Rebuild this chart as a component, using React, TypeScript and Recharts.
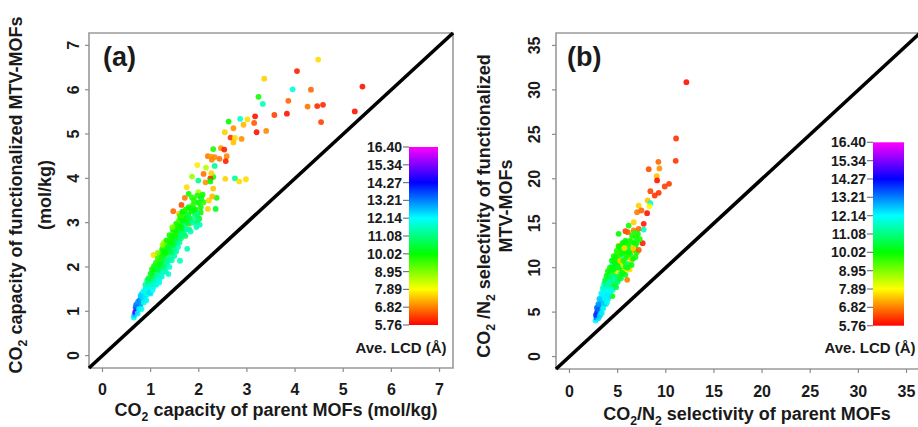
import React from 'react';
import { ScatterChart, Scatter, XAxis, YAxis, ReferenceLine, ReferenceArea, Label } from 'recharts';

const FONT = "'Liberation Sans', Arial, Helvetica, sans-serif";

const capacityTicks = [0, 1, 2, 3, 4, 5, 6, 7];
const selectivityTicks = [0, 5, 10, 15, 20, 25, 30, 35];
const lcdTickLabels = ['16.40', '15.34', '14.27', '13.21', '12.14', '11.08', '10.02', '8.95', '7.89', '6.82', '5.76'];
const LCD_MIN = 5.76;
const LCD_MAX = 16.4;

// [parent MOF CO2 capacity, functionalized MTV-MOF CO2 capacity, Ave. LCD]
const capacityPoints: [number, number, number][] = [
  [4.48, 6.68, 7.6], [4.04, 6.42, 6.0], [5.4, 6.07, 5.9], [3.36, 6.25, 7.5], [3.95, 6.01, 11.9],
  [4.33, 6.0, 6.6], [3.24, 5.84, 9.9], [3.33, 5.68, 11.6], [3.86, 5.75, 6.6], [4.26, 5.62, 6.7],
  [4.46, 5.63, 6.1], [4.58, 5.66, 6.1], [3.83, 5.46, 5.9], [3.57, 5.43, 6.3], [5.24, 5.51, 5.9],
  [4.54, 5.27, 6.3], [3.17, 5.4, 5.9], [3.2, 5.04, 5.9], [3.4, 5.07, 6.9], [3.15, 5.25, 6.5],
  [2.86, 5.34, 11.8], [3.01, 5.33, 7.6], [2.93, 5.21, 7.3], [2.62, 5.28, 10.0], [2.72, 5.13, 7.0],
  [2.54, 5.04, 7.5], [2.66, 4.92, 6.2], [2.75, 4.91, 7.6], [2.89, 4.89, 7.0], [2.72, 4.81, 7.4],
  [2.3, 4.66, 9.8], [2.46, 4.68, 7.0], [2.53, 4.65, 6.0], [2.19, 4.5, 6.8], [2.26, 4.49, 7.1],
  [2.33, 4.48, 6.9], [2.27, 4.42, 6.9], [2.43, 4.44, 6.7], [2.58, 4.5, 6.9], [2.56, 4.39, 6.0],
  [2.33, 4.28, 11.3], [1.97, 4.3, 7.7], [2.15, 4.24, 8.5], [2.3, 4.03, 9.8], [1.86, 4.04, 8.7],
  [1.99, 3.95, 11.2], [2.1, 4.1, 6.7], [2.24, 4.0, 6.2], [2.14, 3.91, 7.0], [2.24, 3.93, 10.0],
  [2.75, 4.0, 11.3], [2.55, 3.99, 7.5], [2.84, 3.93, 7.6], [2.98, 3.98, 7.6], [2.3, 3.77, 7.4],
  [2.26, 4.12, 7.5], [1.99, 3.69, 8.6], [1.75, 3.8, 7.6], [1.79, 3.65, 9.9], [1.86, 3.57, 9.7],
  [1.97, 3.61, 9.8], [2.08, 3.63, 9.9], [2.37, 3.56, 9.9], [1.71, 3.56, 6.8], [2.1, 3.46, 9.6],
  [2.21, 3.5, 7.5], [2.28, 3.59, 7.3], [1.64, 3.4, 6.4], [1.47, 3.26, 6.6], [2.35, 3.31, 10.3],
  [2.19, 3.31, 7.5], [2.04, 3.35, 9.9], [2.04, 3.23, 10.1], [1.83, 3.31, 9.8], [1.9, 3.27, 10.0],
  [1.59, 3.2, 7.4], [1.97, 3.2, 11.0], [2.01, 3.09, 10.2], [1.76, 3.05, 7.4], [1.68, 3.02, 6.6],
  [1.8, 2.98, 6.9], [1.97, 3.01, 9.8],
  [0.65, 0.86, 12.0], [0.66, 0.92, 12.6], [0.68, 0.98, 15.0], [0.7, 1.02, 15.3], [0.72, 1.06, 14.8],
  [0.69, 1.09, 13.5], [0.73, 0.95, 12.3], [0.75, 1.15, 13.4], [0.77, 1.24, 14.2], [0.78, 1.1, 12.8],
  [0.8, 1.18, 12.9], [0.8, 1.3, 13.0], [0.83, 1.25, 12.6], [0.84, 1.36, 13.1], [0.86, 1.2, 11.9],
  [0.82, 1.4, 12.4], [0.88, 1.32, 12.2], [0.88, 1.45, 12.7], [0.9, 1.52, 12.0], [0.92, 1.38, 11.8],
  [0.94, 1.6, 11.5], [0.95, 1.47, 12.3], [0.97, 1.66, 11.2], [0.99, 1.55, 12.1], [1.0, 1.4, 11.9],
  [0.93, 1.7, 10.8], [1.02, 1.72, 10.5], [1.03, 1.62, 11.6], [1.05, 1.8, 10.2], [1.06, 1.55, 11.9],
  [1.08, 1.68, 11.4], [1.08, 1.9, 10.0], [1.1, 1.75, 11.0], [1.12, 1.95, 10.3], [1.12, 1.6, 12.0],
  [1.14, 1.84, 11.3], [1.06, 2.27, 7.6], [1.16, 2.05, 10.1], [1.17, 1.72, 11.8], [1.18, 1.92, 10.8],
  [1.2, 2.15, 9.9], [1.21, 1.8, 11.5], [1.22, 2.0, 10.6], [1.24, 2.25, 10.0], [1.25, 1.88, 11.6],
  [1.26, 2.1, 10.4], [1.28, 2.35, 9.8], [1.29, 1.95, 11.3], [1.3, 2.2, 10.5], [1.32, 2.42, 9.9],
  [1.32, 2.05, 11.0], [1.34, 2.3, 10.2], [1.35, 2.55, 10.0], [1.36, 2.15, 11.1], [1.37, 1.84, 11.7],
  [1.38, 2.4, 10.4], [1.4, 2.62, 9.7], [1.41, 2.22, 11.2], [1.42, 2.48, 10.1], [1.44, 2.7, 9.9],
  [1.45, 2.32, 10.8], [1.46, 2.58, 10.2], [1.47, 2.78, 9.6], [1.48, 2.4, 11.0], [1.5, 2.65, 10.1],
  [1.51, 2.88, 9.8], [1.52, 2.5, 10.9], [1.54, 2.75, 10.0], [1.55, 2.95, 9.3], [1.56, 2.58, 11.2],
  [1.58, 2.82, 10.0], [1.59, 3.05, 9.5], [1.6, 2.7, 10.7], [1.61, 2.14, 11.6], [1.62, 2.92, 9.9],
  [1.63, 3.1, 10.0], [1.64, 2.78, 11.0], [1.66, 3.0, 10.2], [1.67, 3.18, 9.6], [1.68, 2.85, 10.5],
  [1.7, 3.25, 9.9], [1.72, 2.95, 11.2], [1.74, 3.1, 10.0], [1.76, 2.41, 11.5], [1.78, 3.18, 10.3],
  [1.8, 2.85, 11.0], [1.72, 2.7, 10.8], [1.84, 3.05, 10.6], [1.88, 3.4, 9.8], [1.92, 3.15, 11.0],
  [1.95, 2.9, 11.5], [1.28, 2.56, 8.6],
  [0.7, 1.15, 13.2], [0.74, 1.22, 13.0], [0.76, 1.05, 12.2], [0.79, 1.35, 12.5], [0.81, 1.05, 12.0],
  [0.85, 1.45, 12.0], [0.87, 1.28, 12.4], [0.89, 1.6, 11.4], [0.91, 1.25, 12.2], [0.93, 1.5, 11.9],
  [0.96, 1.75, 10.6], [0.98, 1.42, 12.4], [1.0, 1.85, 10.3], [1.01, 1.58, 11.7], [1.03, 1.95, 10.0],
  [1.04, 1.48, 12.1], [1.07, 2.02, 9.9], [1.09, 1.62, 11.8], [1.11, 2.1, 9.8], [1.13, 1.7, 11.6],
  [1.15, 1.95, 10.6], [1.15, 2.2, 9.7], [1.18, 1.65, 12.0], [1.19, 2.3, 9.9], [1.21, 2.05, 10.2],
  [1.23, 1.78, 11.8], [1.24, 2.4, 10.1], [1.27, 2.0, 10.9], [1.27, 2.48, 9.6], [1.3, 2.32, 10.0],
  [1.31, 1.9, 11.6], [1.33, 2.6, 9.9], [1.35, 2.1, 11.3], [1.36, 2.45, 10.3], [1.39, 2.0, 11.8],
  [1.39, 2.72, 9.8], [1.41, 2.35, 10.6], [1.43, 2.58, 9.9], [1.44, 2.15, 11.5], [1.46, 2.85, 10.0],
  [1.48, 2.5, 10.4], [1.49, 2.25, 11.4], [1.51, 2.72, 9.9], [1.53, 2.35, 11.3], [1.53, 2.98, 9.8],
  [1.55, 2.6, 10.5], [1.57, 2.45, 11.6], [1.57, 2.9, 9.9], [1.6, 2.55, 11.4], [1.61, 3.15, 9.7],
  [1.63, 2.65, 10.9], [1.65, 2.88, 10.1], [1.66, 3.25, 10.0], [1.69, 2.75, 11.1], [1.71, 3.05, 10.2],
  [1.73, 3.3, 9.8], [1.75, 2.85, 11.3], [1.77, 3.0, 10.4], [1.79, 3.35, 9.9], [1.81, 3.1, 10.6],
  [1.83, 2.8, 11.5], [1.85, 3.25, 10.2], [1.87, 3.0, 11.3], [1.9, 3.5, 9.8], [1.93, 3.3, 10.1],
  [1.96, 3.05, 11.2], [1.99, 3.45, 10.0], [2.02, 2.95, 11.6], [2.05, 3.55, 10.2], [1.25, 2.5, 8.8],
  [1.45, 2.9, 9.0], [1.15, 2.32, 8.9],
];

// [parent MOF CO2/N2 selectivity, functionalized MTV-MOF CO2/N2 selectivity, Ave. LCD]
const selectivityPoints: [number, number, number][] = [
  [12.14, 30.87, 5.9], [11.07, 24.53, 6.2], [11.03, 22.02, 6.2], [9.23, 21.91, 6.6], [8.23, 21.08, 6.4],
  [9.34, 21.16, 7.0], [9.06, 20.29, 7.4], [9.1, 19.81, 5.9], [10.34, 19.43, 6.3], [9.89, 19.13, 6.3],
  [8.4, 18.6, 6.3], [9.27, 18.42, 6.2], [8.85, 18.12, 6.2], [8.12, 17.56, 7.4], [7.19, 16.99, 7.5],
  [8.4, 17.25, 11.8], [8.06, 16.13, 5.9], [7.02, 16.24, 6.8], [7.47, 16.43, 6.6], [8.3, 16.9, 7.8],
  [6.15, 14.74, 9.9], [6.67, 15.11, 7.5], [7.71, 14.93, 6.0], [6.67, 14.18, 6.8], [7.19, 14.37, 6.6],
  [7.71, 14.29, 11.6], [5.81, 14.1, 6.3], [6.05, 13.99, 6.5], [5.11, 13.81, 10.0], [7.6, 12.75, 6.0],
  [5.46, 12.68, 7.5], [5.11, 12.49, 7.4], [5.81, 13.05, 9.9], [6.33, 13.05, 9.7], [6.85, 12.49, 10.1],
  [6.5, 12.12, 9.8], [5.71, 12.12, 6.9], [5.46, 11.93, 11.6], [6.15, 11.55, 11.8],
  [2.7, 4.05, 12.2], [2.8, 4.4, 13.3], [2.87, 4.99, 14.8], [2.9, 4.6, 14.2], [2.95, 5.3, 13.6],
  [3.0, 4.3, 12.4], [3.05, 5.7, 13.0], [3.1, 5.0, 13.5], [3.15, 5.5, 14.6], [3.2, 4.8, 12.8],
  [3.2, 6.1, 12.5], [3.25, 5.9, 13.2], [3.3, 6.5, 12.3], [3.35, 5.4, 12.9], [3.4, 6.9, 12.0],
  [3.45, 6.1, 12.6], [3.5, 7.3, 11.9], [3.55, 5.8, 12.4], [3.6, 6.6, 12.2], [3.65, 7.6, 11.6],
  [3.7, 6.2, 12.5], [3.75, 7.1, 12.1], [3.8, 8.0, 11.2], [3.8, 5.9, 11.8], [3.85, 6.8, 12.3],
  [3.9, 7.5, 12.0], [3.95, 8.4, 10.3], [4.0, 6.5, 12.4], [4.05, 7.9, 11.7], [4.1, 9.0, 10.0],
  [4.15, 7.2, 12.1], [4.2, 8.6, 11.0], [4.25, 9.6, 10.2], [4.3, 7.7, 11.6], [4.35, 8.2, 10.5],
  [4.4, 9.2, 9.8], [4.45, 10.3, 11.8], [4.45, 6.8, 10.1], [4.5, 10.0, 10.0], [4.55, 8.5, 11.2],
  [4.6, 9.5, 9.6], [4.65, 10.8, 9.9], [4.7, 8.0, 10.4], [4.75, 9.9, 10.1], [4.8, 11.2, 10.0],
  [4.85, 9.0, 11.0], [4.9, 10.4, 9.7], [4.95, 11.55, 9.9], [5.0, 9.6, 7.6], [5.05, 10.9, 10.2],
  [5.1, 8.7, 9.8], [5.15, 11.8, 7.5], [5.2, 10.2, 10.0], [5.25, 11.4, 9.8], [5.3, 9.3, 11.4],
  [5.35, 12.3, 9.6], [5.4, 10.7, 7.2], [5.45, 9.9, 10.1], [5.5, 11.6, 10.2], [5.55, 10.3, 8.2],
  [5.6, 12.6, 9.9], [5.65, 11.0, 11.5], [5.7, 9.6, 7.8], [5.75, 10.6, 9.7], [5.8, 11.8, 10.0],
  [5.85, 10.1, 10.3], [5.99, 8.63, 6.8], [6.0, 11.2, 9.9], [6.1, 10.4, 11.2], [6.15, 12.4, 10.1],
  [6.25, 9.8, 7.6], [6.3, 11.5, 9.8], [6.4, 10.9, 7.4], [6.5, 13.6, 9.8], [6.6, 11.0, 10.0],
  [6.7, 12.8, 10.2], [6.8, 11.9, 7.0], [6.9, 13.4, 9.9], [7.0, 11.7, 9.8], [7.1, 13.8, 10.1],
  [2.75, 4.7, 13.8], [2.85, 5.5, 13.4], [3.0, 5.9, 13.0], [3.1, 6.5, 12.6], [3.15, 4.6, 12.5],
  [3.3, 7.1, 12.2], [3.35, 4.9, 12.3], [3.45, 7.7, 11.8], [3.5, 5.4, 12.0], [3.6, 8.2, 11.2],
  [3.65, 6.0, 12.6], [3.7, 8.6, 10.6], [3.75, 6.5, 12.2], [3.85, 9.1, 10.2], [3.9, 6.1, 12.0],
  [4.0, 9.6, 10.0], [4.05, 7.0, 12.3], [4.1, 8.3, 11.5], [4.2, 10.0, 9.9], [4.25, 7.4, 12.0],
  [4.3, 9.0, 11.0], [4.4, 10.8, 10.1], [4.5, 7.5, 11.8], [4.55, 9.8, 10.3], [4.6, 11.3, 9.9],
  [4.7, 8.9, 11.3], [4.75, 10.5, 10.0], [4.85, 7.8, 10.6], [4.9, 11.9, 9.8], [5.0, 8.4, 10.8],
  [5.05, 10.0, 10.3], [5.1, 12.4, 10.0], [5.2, 9.0, 9.7], [5.25, 10.8, 7.4], [5.35, 8.8, 10.5],
  [5.4, 11.9, 9.9], [5.5, 9.4, 10.0], [5.55, 12.8, 10.1], [5.6, 10.8, 9.8], [5.7, 12.2, 7.6],
  [5.8, 9.2, 10.2], [5.9, 11.4, 9.8], [5.95, 12.9, 10.0], [6.05, 10.0, 9.9], [6.2, 11.8, 10.0],
  [6.35, 12.9, 9.8], [6.45, 10.3, 9.9], [6.6, 12.2, 7.5], [6.75, 13.9, 9.7], [6.85, 11.2, 9.9],
  [7.0, 12.8, 9.9], [7.2, 12.0, 6.5], [7.3, 13.2, 9.8],
];

type Seg = { t: string; sub?: boolean };

const capacityXTitle: Seg[] = [{ t: 'CO' }, { t: '2', sub: true }, { t: ' capacity of parent MOFs (mol/kg)' }];
const capacityYTitle: Seg[] = [{ t: 'CO' }, { t: '2', sub: true }, { t: ' capacity of functionalized MTV-MOFs' }];
const selectivityXTitle: Seg[] = [
  { t: 'CO' }, { t: '2', sub: true }, { t: '/N' }, { t: '2', sub: true }, { t: ' selectivity of parent MOFs' },
];
const selectivityYTitle: Seg[] = [
  { t: 'CO' }, { t: '2', sub: true }, { t: ' /N' }, { t: '2', sub: true }, { t: ' selectivity of functionalized' },
];

function rich(segs: Seg[], size: number) {
  const shift = size * 0.28;
  let prevSub = false;
  return segs.map((s, i) => {
    let dy = 0;
    if (s.sub && !prevSub) dy = shift;
    if (!s.sub && prevSub) dy = -shift;
    prevSub = !!s.sub;
    return (
      <tspan key={i} dy={dy} fontSize={s.sub ? size * 0.68 : size}>
        {s.t}
      </tspan>
    );
  });
}

function lcdColor(lcd: number): string {
  const f = Math.max(0, Math.min(1, (lcd - LCD_MIN) / (LCD_MAX - LCD_MIN)));
  return `hsl(${Math.round(f * 300)}, 100%, 50%)`;
}

type PanelCfg = {
  id: string;
  left: number;
  width: number;
  yAxisWidth: number;
  xAxisHeight: number;
  marginRight: number;
  domain: [number, number];
  ticks: number[];
  points: [number, number, number][];
  yTickCenterGap: number;
  xTickBaseline: number;
  xTitle: Seg[];
  xTitleCenter: number;
  xTitleBaseline: number;
  yTitle1: Seg[];
  yTitle2: string;
  yTitle1Baseline: number;
  yTitle2Baseline: number;
  yTitleCenter: number;
  panelLabel: string;
  panelLabelX: number;
  bar: { x: number; top: number; bottom: number; w: number; titleX: number };
};

function Panel(cfg: PanelCfg) {
  const data = cfg.points.map(([x, y, lcd]) => ({ x, y, lcd }));
  const [d0, d1] = cfg.domain;
  const txt = { fontFamily: FONT, fontWeight: 700 as const, fill: '#1a1a1a' };
  const barH = cfg.bar.bottom - cfg.bar.top;
  return (
    <div style={{ position: 'absolute', left: cfg.left, top: 0 }}>
      <ScatterChart width={cfg.width} height={427} margin={{ top: 33, right: cfg.marginRight, bottom: 0, left: 0 }}>
        <defs>
          <linearGradient id={`grad-${cfg.id}`} x1="0" y1="1" x2="0" y2="0">
            {Array.from({ length: 11 }, (_, i) => (
              <stop key={i} offset={i / 10} stopColor={`hsl(${i * 30}, 100%, 50%)`} />
            ))}
          </linearGradient>
        </defs>
        <XAxis
          type="number"
          dataKey="x"
          domain={cfg.domain}
          ticks={cfg.ticks}
          interval={0}
          allowDataOverflow
          height={cfg.xAxisHeight}
          axisLine={false}
          tickLine={{ stroke: '#8c8c8c', strokeWidth: 1.2 }}
          tickSize={4}
          tickMargin={0}
          tick={(p: any) => (
            <text x={p.x} y={p.y + cfg.xTickBaseline} textAnchor="middle" fontSize={16} {...txt}>
              {p.payload.value}
            </text>
          )}
        >
          <Label
            content={(p: any) => (
              <text x={p.viewBox.x + cfg.xTitleCenter} y={cfg.xTitleBaseline} textAnchor="middle" fontSize={18} {...txt}>
                {rich(cfg.xTitle, 18)}
              </text>
            )}
          />
        </XAxis>
        <YAxis
          type="number"
          dataKey="y"
          domain={cfg.domain}
          ticks={cfg.ticks}
          interval={0}
          allowDataOverflow
          width={cfg.yAxisWidth}
          axisLine={false}
          tickLine={{ stroke: '#8c8c8c', strokeWidth: 1.2 }}
          tickSize={4}
          tickMargin={0}
          tick={(p: any) => {
            const bx = cfg.yAxisWidth - cfg.yTickCenterGap + 5.8;
            return (
              <text x={bx} y={p.y} transform={`rotate(-90 ${bx} ${p.y})`} textAnchor="middle" fontSize={16} {...txt}>
                {p.payload.value}
              </text>
            );
          }}
        >
          <Label
            content={() => (
              <g>
                <text
                  x={cfg.yTitle1Baseline}
                  y={cfg.yTitleCenter}
                  transform={`rotate(-90 ${cfg.yTitle1Baseline} ${cfg.yTitleCenter})`}
                  textAnchor="middle"
                  fontSize={18}
                  {...txt}
                >
                  {rich(cfg.yTitle1, 18)}
                </text>
                <text
                  x={cfg.yTitle2Baseline}
                  y={cfg.yTitleCenter}
                  transform={`rotate(-90 ${cfg.yTitle2Baseline} ${cfg.yTitleCenter})`}
                  textAnchor="middle"
                  fontSize={18}
                  {...txt}
                >
                  {cfg.yTitle2}
                </text>
              </g>
            )}
          />
        </YAxis>
        <ReferenceArea
          x1={d0}
          x2={d1}
          y1={d0}
          y2={d1}
          fill="#ffffff"
          fillOpacity={0}
          stroke="#9a9a9a"
          strokeWidth={1.6}
          ifOverflow="visible"
          label={() => (
            <text x={cfg.panelLabelX} y={66} fontSize={27} {...txt}>
              {cfg.panelLabel}
            </text>
          )}
        />
        <Scatter
          data={data}
          isAnimationActive={false}
          shape={(p: any) => (
            <circle cx={p.cx} cy={p.cy} r={2.9} fill={lcdColor(p.payload.lcd)} fillOpacity={0.9} />
          )}
        />
        <ReferenceLine
          segment={[{ x: d0, y: d0 }, { x: d1, y: d1 }]}
          stroke="#000"
          strokeWidth={3.6}
          ifOverflow="visible"
          label={() => (
            <g>
              <rect x={cfg.bar.x} y={cfg.bar.top} width={cfg.bar.w} height={barH} fill={`url(#grad-${cfg.id})`} />
              {lcdTickLabels.map((t, i) => {
                const yy = cfg.bar.top + (i * barH) / 10;
                return (
                  <g key={t}>
                    <line x1={cfg.bar.x - 6} x2={cfg.bar.x} y1={yy} y2={yy} stroke="#777" strokeWidth={1.2} />
                    <text x={cfg.bar.x - 7} y={yy + 5} textAnchor="end" fontSize={14} {...txt}>
                      {t}
                    </text>
                  </g>
                );
              })}
              <text x={cfg.bar.titleX} y={353} textAnchor="middle" fontSize={15} {...txt}>
                Ave. LCD (Å)
              </text>
            </g>
          )}
        />
      </ScatterChart>
    </div>
  );
}

export default function App() {
  return (
    <div style={{ position: 'absolute', left: 0, top: 0, width: 918, height: 427, overflow: 'hidden', background: '#fff' }}>
      <Panel
        id="a"
        left={0}
        width={460}
        yAxisWidth={89}
        xAxisHeight={59}
        marginRight={7}
        domain={[-0.28, 7.28]}
        ticks={capacityTicks}
        points={capacityPoints}
        yTickCenterGap={15.5}
        xTickBaseline={22.7}
        xTitle={capacityXTitle}
        xTitleCenter={187}
        xTitleBaseline={416}
        yTitle1={capacityYTitle}
        yTitle2="(mol/kg)"
        yTitle1Baseline={22}
        yTitle2Baseline={51}
        yTitleCenter={195}
        panelLabel="(a)"
        panelLabelX={103}
        bar={{ x: 409, top: 147, bottom: 325, w: 29, titleX: 401 }}
      />
      <Panel
        id="b"
        left={460}
        width={462}
        yAxisWidth={96}
        xAxisHeight={58}
        marginRight={2}
        domain={[-1.4, 36.4]}
        ticks={selectivityTicks}
        points={selectivityPoints}
        yTickCenterGap={22}
        xTickBaseline={23.5}
        xTitle={selectivityXTitle}
        xTitleCenter={191}
        xTitleBaseline={420}
        yTitle1={selectivityYTitle}
        yTitle2="MTV-MOFs"
        yTitle1Baseline={29.5}
        yTitle2Baseline={51.5}
        yTitleCenter={206}
        panelLabel="(b)"
        panelLabelX={107}
        bar={{ x: 413, top: 142.3, bottom: 325.7, w: 31, titleX: 410 }}
      />
    </div>
  );
}
